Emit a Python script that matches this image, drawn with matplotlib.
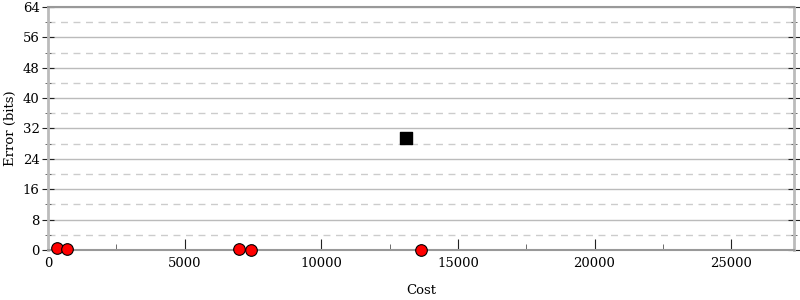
import matplotlib
matplotlib.use("Agg")
import matplotlib.pyplot as plt
from matplotlib.ticker import MultipleLocator

# red circles: alternatives, black square: initial program
alt_cost = [330, 695, 6990, 7420, 13640]
alt_error = [0.6, 0.3, 0.2, 0.1, 0.1]
init_cost = [13100]
init_error = [29.5]

plt.rcParams['font.family'] = 'DejaVu Serif'
plt.rcParams['font.size'] = 9.5

fig = plt.figure(figsize=(8, 3), dpi=100)
ax = fig.add_axes([0.06, 0.1667, 0.9325, 0.81])

ax.set_xlim(0, 27300)
ax.set_ylim(0, 64)
ax.xaxis.set_major_locator(MultipleLocator(5000))
ax.xaxis.set_minor_locator(MultipleLocator(2500))
ax.yaxis.set_major_locator(MultipleLocator(8))
ax.yaxis.set_minor_locator(MultipleLocator(4))

ax.grid(True, axis='y', which='major', color='#bbbbbb', lw=1)
ax.grid(True, axis='y', which='minor', color='#cccccc', lw=1, ls=(0, (5, 4)))
ax.set_axisbelow(True)

for side in ['left', 'right']:
    ax.spines[side].set_color('#bbbbbb')
    ax.spines[side].set_linewidth(2)
ax.spines['top'].set_color('#999999')
ax.spines['top'].set_linewidth(1.5)
ax.spines['bottom'].set_color('#999999')
ax.spines['bottom'].set_linewidth(1.5)

ax.tick_params(axis='y', which='major', direction='inout', length=8, color='#222222', left=True, right=True, pad=2)
ax.tick_params(axis='y', which='minor', direction='inout', length=5, color='#555555', left=True, right=True)
ax.tick_params(axis='x', which='major', direction='in', length=8, color='#222222', pad=5)
ax.tick_params(axis='x', which='minor', direction='in', length=4, color='#555555')

ax.scatter(alt_cost, alt_error, s=70, c='red', edgecolors='black', linewidths=0.8, zorder=3, clip_on=False)
ax.scatter(init_cost, init_error, s=80, marker='s', c='black', zorder=3)

ax.set_xlabel('Cost', labelpad=10)
ax.set_ylabel('Error (bits)', labelpad=4)

fig.savefig('out.png', dpi=100)
